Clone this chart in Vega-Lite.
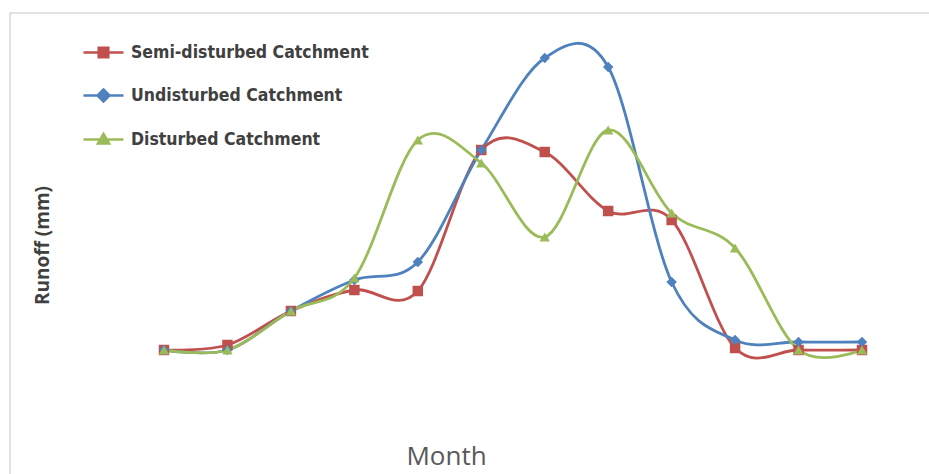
{
  "$schema": "https://vega.github.io/schema/vega-lite/v6.json",
  "autosize": {"type": "none"},
  "padding": {"left": 10, "top": 13, "right": 0, "bottom": 0},
  "width": 940,
  "height": 467,
  "background": "white",
  "config": {"view": {"stroke": "#d9d9d9", "strokeWidth": 1.5}},
  "data": {"values": [
    {"month": 1, "series": "Semi-disturbed Catchment", "runoff": 0},
    {"month": 2, "series": "Semi-disturbed Catchment", "runoff": 0.5},
    {"month": 3, "series": "Semi-disturbed Catchment", "runoff": 3.9},
    {"month": 4, "series": "Semi-disturbed Catchment", "runoff": 6.0},
    {"month": 5, "series": "Semi-disturbed Catchment", "runoff": 5.9},
    {"month": 6, "series": "Semi-disturbed Catchment", "runoff": 20.0},
    {"month": 7, "series": "Semi-disturbed Catchment", "runoff": 19.8},
    {"month": 8, "series": "Semi-disturbed Catchment", "runoff": 13.9},
    {"month": 9, "series": "Semi-disturbed Catchment", "runoff": 13.0},
    {"month": 10, "series": "Semi-disturbed Catchment", "runoff": 0.2},
    {"month": 11, "series": "Semi-disturbed Catchment", "runoff": 0},
    {"month": 12, "series": "Semi-disturbed Catchment", "runoff": 0},
    {"month": 1, "series": "Undisturbed Catchment", "runoff": 0},
    {"month": 2, "series": "Undisturbed Catchment", "runoff": 0},
    {"month": 3, "series": "Undisturbed Catchment", "runoff": 3.9},
    {"month": 4, "series": "Undisturbed Catchment", "runoff": 7.0},
    {"month": 5, "series": "Undisturbed Catchment", "runoff": 8.8},
    {"month": 6, "series": "Undisturbed Catchment", "runoff": 20.0},
    {"month": 7, "series": "Undisturbed Catchment", "runoff": 29.2},
    {"month": 8, "series": "Undisturbed Catchment", "runoff": 28.3},
    {"month": 9, "series": "Undisturbed Catchment", "runoff": 6.8},
    {"month": 10, "series": "Undisturbed Catchment", "runoff": 1.0},
    {"month": 11, "series": "Undisturbed Catchment", "runoff": 0.8},
    {"month": 12, "series": "Undisturbed Catchment", "runoff": 0.8},
    {"month": 1, "series": "Disturbed Catchment", "runoff": 0},
    {"month": 2, "series": "Disturbed Catchment", "runoff": 0},
    {"month": 3, "series": "Disturbed Catchment", "runoff": 3.9},
    {"month": 4, "series": "Disturbed Catchment", "runoff": 7.2},
    {"month": 5, "series": "Disturbed Catchment", "runoff": 21.0},
    {"month": 6, "series": "Disturbed Catchment", "runoff": 18.7},
    {"month": 7, "series": "Disturbed Catchment", "runoff": 11.3},
    {"month": 8, "series": "Disturbed Catchment", "runoff": 22.0},
    {"month": 9, "series": "Disturbed Catchment", "runoff": 13.7},
    {"month": 10, "series": "Disturbed Catchment", "runoff": 10.2},
    {"month": 11, "series": "Disturbed Catchment", "runoff": 0},
    {"month": 12, "series": "Disturbed Catchment", "runoff": 0}
  ]},
  "encoding": {
    "x": {"field": "month", "type": "quantitative",
      "scale": {"domain": [-1.427, 13.387], "nice": false, "zero": false},
      "axis": {"title": "Month", "domain": false, "ticks": false, "labels": false, "grid": false,
        "titleFont": "Open Sans", "titleFontSize": 26, "titleFontWeight": "normal", "titleColor": "#595959",
        "titleX": 436, "titleY": -16, "titleAlign": "center", "titleBaseline": "alphabetic"}},
    "y": {"field": "runoff", "type": "quantitative",
      "scale": {"domain": [-13, 33.7], "nice": false, "zero": false},
      "axis": {"title": "Runoff (mm)", "domain": false, "ticks": false, "labels": false, "grid": false,
        "titleFont": "Open Sans", "titleFontSize": 19, "titleFontWeight": "bold", "titleColor": "#404040",
        "titleX": 32, "titleY": 232, "titleAngle": -90, "titleAlign": "center", "titleBaseline": "middle"}},
    "color": {"field": "series", "type": "nominal",
      "scale": {"domain": ["Semi-disturbed Catchment", "Undisturbed Catchment", "Disturbed Catchment"],
        "range": ["#C0504D", "#4F81BD", "#9BBB59"]},
      "legend": {"orient": "none", "legendX": 72, "legendY": 18, "title": null, "padding": 0,
        "rowPadding": 11, "labelOffset": 6, "symbolSize": 1600, "labelLimit": 500,
        "labelFont": "DejaVu Sans Condensed", "labelFontSize": 17.5, "labelColor": "#404040", "labelFontWeight": "bold",
        "encode": {"symbols": {"update": {
          "shape": {"signal": "datum.value == 'Semi-disturbed Catchment' ? 'M-1,0H1M-0.24,-0.24H0.24V0.24H-0.24Z' : datum.value == 'Undisturbed Catchment' ? 'M-1,0H1M0,-0.3L0.3,0L0,0.3L-0.3,0Z' : 'M-1,0H1M0,-0.28L0.28,0.2L-0.28,0.2Z'"},
          "fill": {"signal": "scale('color', datum.value)"},
          "stroke": {"signal": "scale('color', datum.value)"},
          "strokeWidth": {"value": 2.5},
          "opacity": {"value": 1},
          "fillOpacity": {"value": 1}
        }}}}}
  },
  "layer": [
    {"mark": {"type": "line", "interpolate": "cardinal", "tension": 0, "strokeWidth": 2.8}},
    {"transform": [{"filter": "datum.series == 'Semi-disturbed Catchment'"}],
     "mark": {"type": "point", "filled": true, "opacity": 1, "size": 110, "shape": "square"}},
    {"transform": [{"filter": "datum.series == 'Undisturbed Catchment'"}],
     "mark": {"type": "point", "filled": true, "opacity": 1, "size": 110, "shape": "diamond"}},
    {"transform": [{"filter": "datum.series == 'Disturbed Catchment'"}],
     "mark": {"type": "point", "filled": true, "opacity": 1, "size": 110, "shape": "triangle-up"}}
  ]
}
